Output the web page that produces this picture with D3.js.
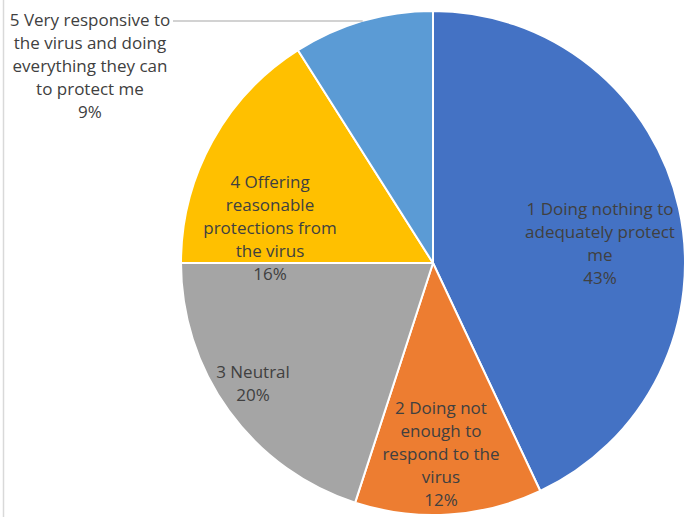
<!DOCTYPE html>
<html>
<head>
<meta charset="utf-8">
<script src="https://cdn.jsdelivr.net/npm/d3@7"></script>
<style>
  html, body { margin: 0; padding: 0; background: #fff; }
  svg { display: block; }
  text { font-family: "Open Sans", Lato, sans-serif; }
</style>
</head>
<body>
<svg id="chart" width="685" height="517"></svg>
<script>
// Survey responses: how the employer is responding to the virus
const categories = [
  "1 Doing nothing to adequately protect me",
  "2 Doing not enough to respond to the virus",
  "3 Neutral",
  "4 Offering reasonable protections from the virus",
  "5 Very responsive to the virus and doing everything they can to protect me"
];
const percents = [43, 12, 20, 16, 9];
const colors = ["#4472C4", "#ED7D31", "#A5A5A5", "#FFC000", "#5B9BD5"];

// Line breaks used for each data label (category lines, then the percent)
const labelLines = [
  ["1 Doing nothing to", "adequately protect", "me"],
  ["2 Doing not", "enough to", "respond to the", "virus"],
  ["3 Neutral"],
  ["4 Offering", "reasonable", "protections from", "the virus"],
  ["5 Very responsive to", "the virus and doing", "everything they can", "to protect me"]
];

// Label layout: centre x and first-line y for each label block
const labelLayout = [
  { x: 600, y: 209 },
  { x: 441, y: 408 },
  { x: 253, y: 372 },
  { x: 270, y: 182 },
  { x: 90,  y: 20 }
];

const W = 685, H = 517;
const cx = 433, cy = 263, R = 252;
const lineH = 23;

const svg = d3.select("#chart");

// thin frame line on the left edge
svg.append("line")
  .attr("x1", 3.5).attr("x2", 3.5).attr("y1", 0).attr("y2", H)
  .attr("stroke", "#d9d9d9").attr("stroke-width", 1.5);

const data = percents.map((v, i) => ({ name: categories[i], value: v, color: colors[i], lines: labelLines[i], pos: labelLayout[i] }));

const pie = d3.pie().value(d => d.value).sort(null);
const arc = d3.arc().innerRadius(0).outerRadius(R);
const arcs = pie(data);

const g = svg.append("g").attr("transform", `translate(${cx},${cy})`);

g.selectAll("path.slice")
  .data(arcs)
  .join("path")
  .attr("class", "slice")
  .attr("d", arc)
  .attr("fill", d => d.data.color)
  .attr("stroke", "#fff")
  .attr("stroke-width", 2)
  .attr("stroke-linejoin", "round");

// leader line for the small slice whose label sits outside the pie
const last = arcs[arcs.length - 1];
const midAngle = (last.startAngle + last.endAngle) / 2;
const edgeX = cx + R * Math.sin(midAngle);
const edgeY = cy - R * Math.cos(midAngle);
svg.append("line")
  .attr("x1", 173).attr("y1", 21)
  .attr("x2", edgeX).attr("y2", edgeY)
  .attr("stroke", "#a6a6a6").attr("stroke-width", 1.2);

// data labels
const labels = svg.selectAll("text.lbl")
  .data(arcs)
  .join("text")
  .attr("class", "lbl")
  .attr("text-anchor", "middle")
  .attr("fill", "#404040")
  .attr("font-size", 17);

labels.each(function(d) {
  const t = d3.select(this);
  const lines = d.data.lines.concat([d3.format(".0%")(d.data.value / 100)]);
  lines.forEach((ln, k) => {
    t.append("tspan")
      .attr("x", d.data.pos.x)
      .attr("y", d.data.pos.y + 6 + k * lineH)
      .text(ln);
  });
});
</script>
</body>
</html>
